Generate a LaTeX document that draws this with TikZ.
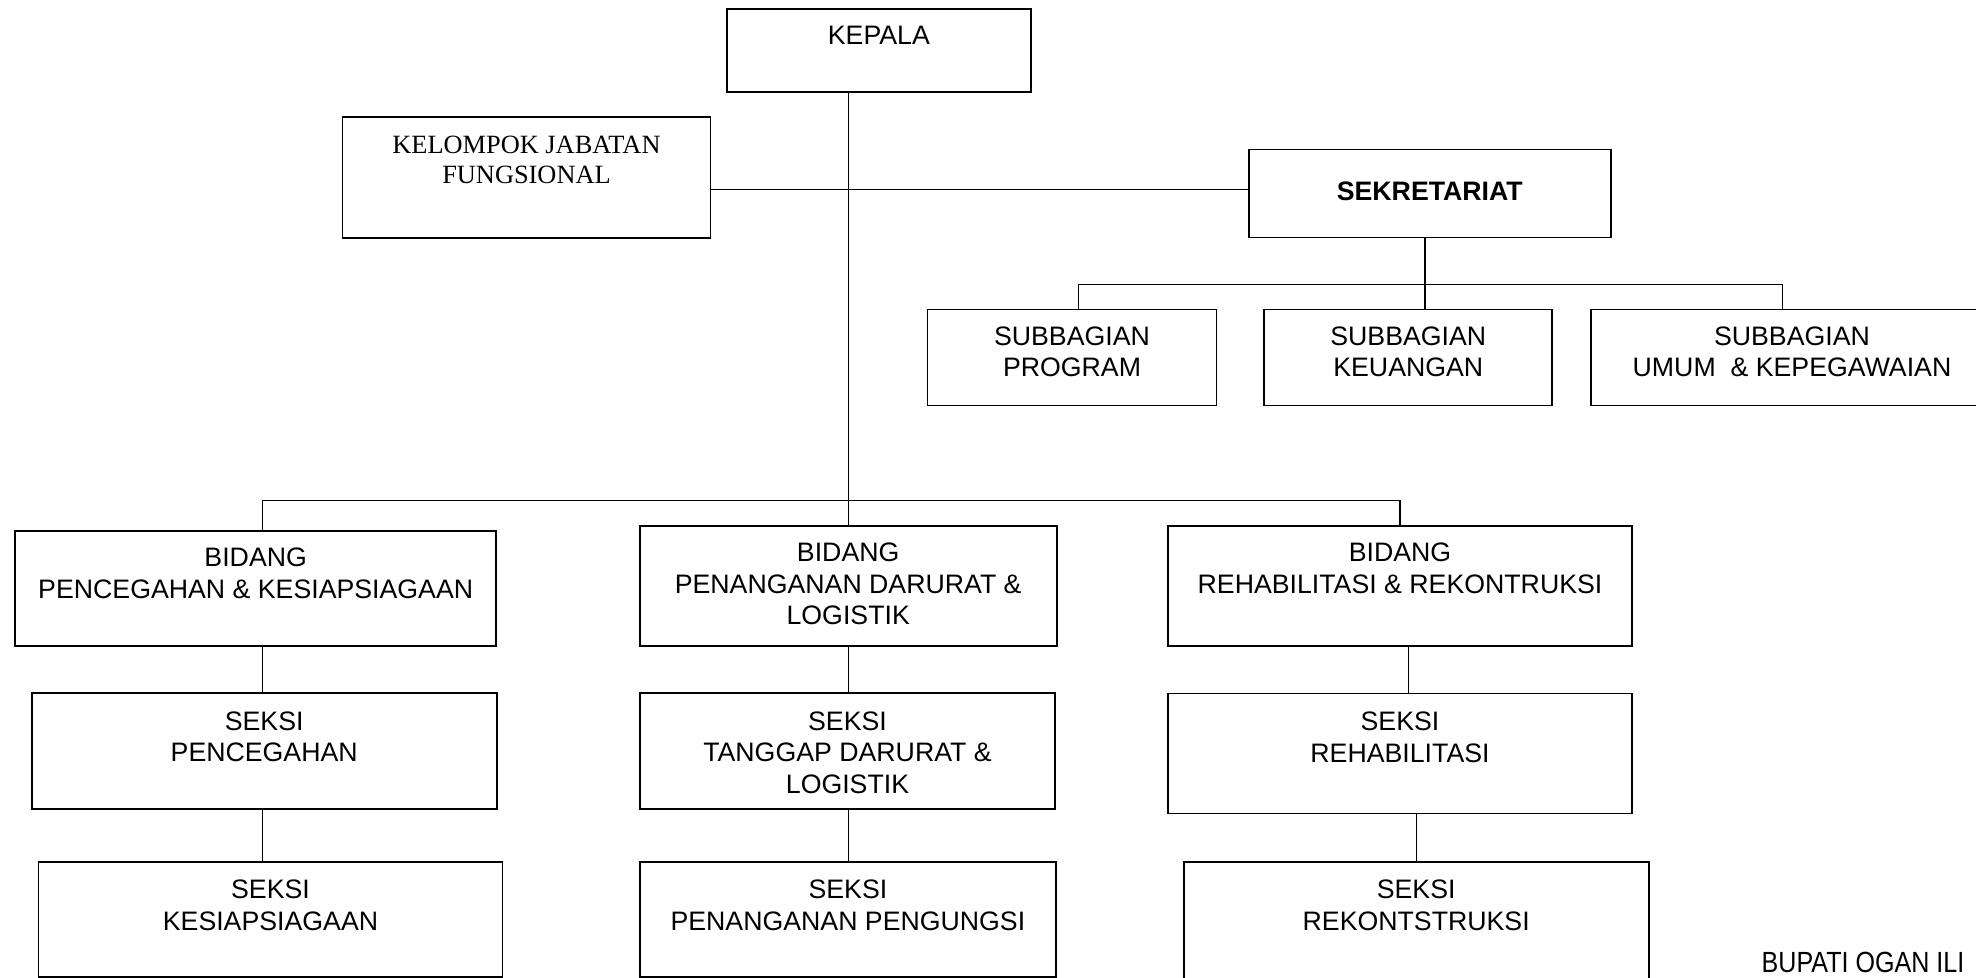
\documentclass[tikz,border=0pt]{standalone}
\usepackage{fontspec}
\setmainfont{Liberation Sans}
\newfontfamily\kjfserif{Liberation Serif}
\newfontfamily\narrowsans[FakeStretch=0.86]{Liberation Sans}
\usepackage{tikz}
\usetikzlibrary{calc}
\definecolor{orgblack}{RGB}{0,0,0}

\begin{document}
\begin{tikzpicture}[
  every node/.style={font=\fontsize{7.6}{9}\selectfont},
  orgbox/.style={rectangle, draw=orgblack, line width=0.55pt, inner sep=0pt},
  orgtext/.style={anchor=north, align=center, inner sep=0pt},
  orgline/.style={draw=orgblack, line width=0.4pt},
]
\useasboundingbox (0,0) rectangle (19.76,-9.78);

% Top: Kepala
\node[orgbox, minimum width=3.04cm, minimum height=0.83cm, at={(8.789,-0.505)}] (kepala) {};
\node[orgtext] at ($(kepala.north)+(0,-0.177)$) {KEPALA};

% Kelompok jabatan fungsional (left of the trunk)
\node[orgbox, minimum width=3.68cm, minimum height=1.21cm, at={(5.265,-1.777)}] (kjf) {};
\node[orgtext, font=\kjfserif\fontsize{7.5}{8.5}\selectfont] at ($(kjf.north)+(0,-0.194)$)
      {KELOMPOK JABATAN \\ FUNGSIONAL};

% Sekretariat and its three subbagian
\node[orgbox, minimum width=3.62cm, minimum height=0.88cm, at={(14.298,-1.935)}] (sekr) {};
\node[orgtext, font=\bfseries\fontsize{7.6}{9}\selectfont] at ($(sekr.north)+(0,-0.324)$) {SEKRETARIAT};

\node[orgbox, minimum width=2.89cm, minimum height=0.96cm, at={(10.72,-3.575)}] (sprog) {};
\node[orgtext] at ($(sprog.north)+(0,-0.174)$) {SUBBAGIAN \\ PROGRAM};

\node[orgbox, minimum width=2.88cm, minimum height=0.96cm, at={(14.083,-3.575)}] (skeu) {};
\node[orgtext] at ($(skeu.north)+(0,-0.174)$) {SUBBAGIAN \\ KEUANGAN};

\node[orgbox, minimum width=4.02cm, minimum height=0.96cm, at={(17.92,-3.575)}] (sumum) {};
\node[orgtext] at ($(sumum.north)+(0,-0.174)$) {SUBBAGIAN \\ UMUM\ \ \& KEPEGAWAIAN};

% Bidang row
\node[orgbox, minimum width=4.81cm, minimum height=1.15cm, at={(2.557,-5.884)}] (bpc) {};
\node[orgtext] at ($(bpc.north)+(0,-0.175)$) {BIDANG \\ PENCEGAHAN \& KESIAPSIAGAAN};

\node[orgbox, minimum width=4.17cm, minimum height=1.2cm, at={(8.482,-5.857)}] (bpd) {};
\node[orgtext] at ($(bpd.north)+(0,-0.175)$) {BIDANG \\ PENANGANAN DARURAT \& \\ LOGISTIK};

\node[orgbox, minimum width=4.64cm, minimum height=1.2cm, at={(14.0,-5.857)}] (brr) {};
\node[orgtext] at ($(brr.north)+(0,-0.175)$) {BIDANG \\ REHABILITASI \& REKONTRUKSI};

% Seksi, first row
\node[orgbox, minimum width=4.65cm, minimum height=1.16cm, at={(2.642,-7.512)}] (sp) {};
\node[orgtext] at ($(sp.north)+(0,-0.185)$) {SEKSI \\ PENCEGAHAN};

\node[orgbox, minimum width=4.15cm, minimum height=1.16cm, at={(8.475,-7.512)}] (stdl) {};
\node[orgtext] at ($(stdl.north)+(0,-0.185)$) {SEKSI \\ TANGGAP DARURAT \& \\ LOGISTIK};

\node[orgbox, minimum width=4.64cm, minimum height=1.2cm, at={(14.0,-7.535)}] (sr) {};
\node[orgtext] at ($(sr.north)+(0,-0.185)$) {SEKSI \\ REHABILITASI};

% Seksi, second row
\node[orgbox, minimum width=4.64cm, minimum height=1.15cm, at={(2.705,-9.192)}] (sk) {};
\node[orgtext] at ($(sk.north)+(0,-0.183)$) {SEKSI \\ KESIAPSIAGAAN};

\node[orgbox, minimum width=4.16cm, minimum height=1.15cm, at={(8.479,-9.192)}] (spp) {};
\node[orgtext] at ($(spp.north)+(0,-0.183)$) {SEKSI \\ PENANGANAN PENGUNGSI};

\node[orgbox, minimum width=4.65cm, minimum height=1.2cm, at={(14.162,-9.218)}] (srk) {};
\node[orgtext] at ($(srk.north)+(0,-0.183)$) {SEKSI \\ REKONTSTRUKSI};

% Signature line, bottom right
\node[anchor=base west, inner sep=0pt, font=\narrowsans\fontsize{8.3}{10}\selectfont]
      (bupati) at (17.61,-9.727) {BUPATI OGAN ILI};

% Column points for the off-centre lines
\coordinate (lcol) at ([xshift=0.67mm]bpc.north);
\coordinate (rcol) at ([xshift=0.84mm]brr.south);
\coordinate (sekrin) at ([yshift=0.42mm]sekr.west);
\coordinate (sekrout) at ([xshift=-0.5mm]sekr.south);

% Lines connecting the boxes
\draw[orgline] (kepala.south -| bpd.north) -- (bpd.north);
\draw[orgline] (kjf.east |- sekrin) -- (sekrin);
\draw[orgline] (sekrout) -- (sekrout |- skeu.north);
\draw[orgline] ([xshift=0.65mm]sprog.north) -- ++(0,0.243) -| ([xshift=-0.94mm]sumum.north);
\draw[orgline] (lcol) -- ++(0,0.293) -| (brr.north);
\draw[orgline] (lcol |- bpc.south) -- (lcol |- sp.north);
\draw[orgline] (lcol |- sp.south) -- (lcol |- sk.north);
\draw[orgline] (bpd.south) -- (bpd.south |- stdl.north);
\draw[orgline] (bpd.south |- stdl.south) -- (bpd.south |- spp.north);
\draw[orgline] (rcol) -- (rcol |- sr.north);
\draw[orgline] (srk.north) -- (srk.north |- sr.south);
\end{tikzpicture}
\end{document}
